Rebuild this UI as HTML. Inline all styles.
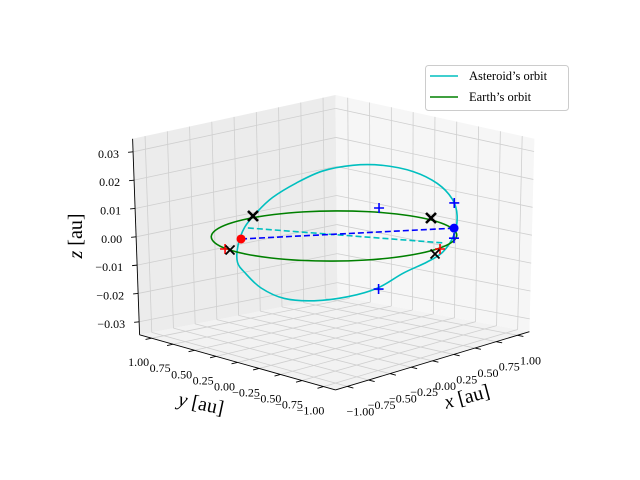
<!DOCTYPE html>
<html><head><meta charset="utf-8"><style>
html,body{margin:0;padding:0;background:#fff;}
svg{display:block;font-family:"Liberation Serif",serif;}
</style></head><body>
<svg id="chart" width="640" height="480" viewBox="0 0 640 480" xmlns="http://www.w3.org/2000/svg">
<g id="panes"></g>
<g id="grid"></g>
<g id="axes"></g>
<g id="series"></g>
<g id="markers"></g>
<text x="467" y="403" font-size="20" text-anchor="middle" transform="rotate(-15 467 397)"><tspan font-style="italic">x</tspan> [au]</text>
<text x="201" y="410" font-size="20" text-anchor="middle" transform="rotate(12 201 404)"><tspan font-style="italic">y</tspan> [au]</text>
<text x="76" y="242" font-size="20" text-anchor="middle" transform="rotate(-90 76 236)"><tspan font-style="italic">z</tspan> [au]</text>
<g>
<rect x="425.5" y="65.5" width="143" height="45" rx="3" fill="#fff" stroke="#cccccc" stroke-width="1"/>
<line x1="430" y1="76" x2="458" y2="76" stroke="#00bfbf" stroke-width="1.6"/>
<text x="469" y="80" font-size="12.5">Asteroid’s orbit</text>
<line x1="430" y1="97" x2="458" y2="97" stroke="#008000" stroke-width="1.6"/>
<text x="469" y="101" font-size="12.5">Earth’s orbit</text>
</g>
</svg>
<script>
// ---- data ----
const xTicks = [-1, -0.75, -0.5, -0.25, 0, 0.25, 0.5, 0.75, 1];
const yTicks = [-1, -0.75, -0.5, -0.25, 0, 0.25, 0.5, 0.75, 1];
const zTicks = [-0.03, -0.02, -0.01, 0, 0.01, 0.02, 0.03];
const xTickLabels = ["−1.00","−0.75","−0.50","−0.25","0.00","0.25","0.50","0.75","1.00"];
const yTickLabels = ["−1.00","−0.75","−0.50","−0.25","0.00","0.25","0.50","0.75","1.00"];
const zTickLabels = ["−0.03","−0.02","−0.01","0.00","0.01","0.02","0.03"];
const earthX = [1,0.966,0.866,0.707,0.5,0.259,0,-0.259,-0.5,-0.707,-0.866,-0.966,-1,-0.966,-0.866,-0.707,-0.5,-0.259,0,0.259,0.5,0.707,0.866,0.966];
const earthY = [0,0.259,0.5,0.707,0.866,0.966,1,0.966,0.866,0.707,0.5,0.259,0,-0.259,-0.5,-0.707,-0.866,-0.966,-1,-0.966,-0.866,-0.707,-0.5,-0.259];
const earthZ = [0,0,0,0,0,0,0,0,0,0,0,0,0,0,0,0,0,0,0,0,0,0,0,0];
const astX = [-0.797,-0.632,-0.424,-0.215,0.017,0.294,0.554,0.782,0.953,1.068,1.093,1.029,0.898,0.694,0.472,0.288,0.048,-0.232,-0.477,-0.709,-0.861,-0.899,-0.854];
const astY = [0.315,0.472,0.604,0.678,0.729,0.733,0.697,0.580,0.406,0.173,-0.081,-0.322,-0.514,-0.688,-0.787,-0.790,-0.756,-0.739,-0.641,-0.482,-0.288,-0.059,0.163];
const astZ = [-0.0058,-0.0019,0.0021,0.0054,0.0088,0.0121,0.0148,0.0161,0.0161,0.0147,0.0120,0.0084,0.0046,0.0002,-0.0037,-0.0059,-0.0083,-0.0115,-0.0133,-0.0141,-0.0136,-0.0114,-0.0083];
const earthPos = [-0.559,0.512,-0.0006];
const asteroidPos = [0.760,-0.621,0.0017];
const cyanDashFrom = [-0.416,0.577,0.0019];
const cyanDashTo = [0.568,-0.713,-0.0017];
const blackX = [[0.099,1.047,0],[1.049,-0.056,0],[-0.977,0.211,0],[0.070,-1.107,0]];
const blackXBold = [true,true,false,false];
const redPlus = [[-0.977,0.269,0],[0.237,-0.994,0]];
const bluePlus = [[1.033,0.534,0],[1.003,-0.372,0.0075],[0.666,-0.717,-0.0006],[-0.235,-0.755,-0.0117]];

// ---- projection ----
const LIM = 1.14, ZL = 0.0346;
function proj(x,y,z){
  const s=(x+LIM)/(2*LIM), t=(y+LIM)/(2*LIM);
  const wF=(1-s)*(1-t), wR=s*(1-t), wL=(1-s)*t, wB=s*t;
  const X=334+87.9*x-85.7*y, Ym=236-18.1*x-17.4*y;
  const H=227*wF+193*wR+196*wL+201*wB;
  const lean=-8*wF+5*wR-7*wL-2*wB;
  const w=(z+ZL)/(2*ZL)-0.5;
  return [X+lean*w, Ym-H*w];
}
const NS="http://www.w3.org/2000/svg";
function mk(tag,attrs,parent){const e=document.createElementNS(NS,tag);for(const k in attrs)e.setAttribute(k,attrs[k]);parent.appendChild(e);return e;}
function poly(pts){return pts.map(p=>p[0].toFixed(2)+","+p[1].toFixed(2)).join(" ");}
const gP=document.getElementById('panes'),gG=document.getElementById('grid'),gA=document.getElementById('axes'),gS=document.getElementById('series'),gM=document.getElementById('markers');

// panes
let e;
e=mk('polygon',{points:poly([proj(-LIM,-LIM,-ZL),proj(LIM,-LIM,-ZL),proj(LIM,LIM,-ZL),proj(-LIM,LIM,-ZL)]),fill:'#f2f2f2'},gP);


e=mk('polygon',{points:poly([proj(-LIM,LIM,-ZL),proj(LIM,LIM,-ZL),proj(LIM,LIM,ZL),proj(-LIM,LIM,ZL)]),fill:'#ececec'},gP);


e=mk('polygon',{points:poly([proj(LIM,-LIM,-ZL),proj(LIM,LIM,-ZL),proj(LIM,LIM,ZL),proj(LIM,-LIM,ZL)]),fill:'#f6f6f6'},gP);



function gl(a,b,name){const p=proj(...a),q=proj(...b);const l=mk('line',{x1:p[0],y1:p[1],x2:q[0],y2:q[1],stroke:'#cfcfcf','stroke-width':0.8},gG);

}
xTicks.forEach(v=>{gl([v,-LIM,-ZL],[v,LIM,-ZL],'grid-floor-x');gl([v,LIM,-ZL],[v,LIM,ZL],'grid-wall-x');});
yTicks.forEach(v=>{gl([-LIM,v,-ZL],[LIM,v,-ZL],'grid-floor-y');gl([LIM,v,-ZL],[LIM,v,ZL],'grid-wall-y');});
zTicks.forEach(v=>{gl([-LIM,LIM,v],[LIM,LIM,v],'grid-left-z');gl([LIM,-LIM,v],[LIM,LIM,v],'grid-right-z');});

// axes
function al(a,b,name){const p=proj(...a),q=proj(...b);const l=mk('line',{x1:p[0],y1:p[1],x2:q[0],y2:q[1],stroke:'#000','stroke-width':0.9},gA);

}
al([-LIM,-LIM,-ZL],[LIM,-LIM,-ZL],'x-axis-line');
al([-LIM,-LIM,-ZL],[-LIM,LIM,-ZL],'y-axis-line');
al([-LIM,LIM,-ZL],[-LIM,LIM,ZL],'z-axis-line');
function tx(x,y,str,name,anchor){const t=mk('text',{x:x,y:y,'font-size':12,'text-anchor':anchor||'middle'},gA);t.textContent=str;

}
xTicks.forEach((v,i)=>{const p=proj(v,-LIM,-ZL);al([v,-LIM,-ZL],[v,-LIM-0.07,-ZL],'x-tick');
  tx(p[0]+13,p[1]+29,xTickLabels[i],'x-tick-label');});
yTicks.forEach((v,i)=>{const p=proj(-LIM,v,-ZL);al([-LIM,v,-ZL],[-LIM-0.07,v,-ZL],'y-tick');
  tx(p[0]-13,p[1]+28,yTickLabels[i],'y-tick-label');});
zTicks.forEach((v,i)=>{const p=proj(-LIM,LIM,v);const l=mk('line',{x1:p[0],y1:p[1],x2:p[0]-5,y2:p[1]+0.5,stroke:'#000','stroke-width':0.9},gA);
  
  
  tx(p[0]-14,p[1]+6,zTickLabels[i],'z-tick-label','end');});

// series
function smooth(xs,ys,zs){const P=xs.map((x,i)=>proj(x,ys[i],zs[i]));const n=P.length;let d='M'+P[0][0].toFixed(2)+','+P[0][1].toFixed(2);
  for(let i=0;i<n;i++){const p0=P[(i-1+n)%n],p1=P[i],p2=P[(i+1)%n],p3=P[(i+2)%n];
    const c1=[p1[0]+(p2[0]-p0[0])/6,p1[1]+(p2[1]-p0[1])/6],c2=[p2[0]-(p3[0]-p1[0])/6,p2[1]-(p3[1]-p1[1])/6];
    d+=' C'+c1[0].toFixed(2)+','+c1[1].toFixed(2)+' '+c2[0].toFixed(2)+','+c2[1].toFixed(2)+' '+p2[0].toFixed(2)+','+p2[1].toFixed(2);}
  return d+'Z';}
e=mk('path',{d:smooth(astX,astY,astZ),fill:'none',stroke:'#00bfbf','stroke-width':1.6},gS);


e=mk('path',{d:smooth(earthX,earthY,earthZ),fill:'none',stroke:'#008000','stroke-width':1.6},gS);


function dash(a,b,col,name){const p=proj(...a),q=proj(...b);const l=mk('line',{x1:p[0],y1:p[1],x2:q[0],y2:q[1],stroke:col,'stroke-width':1.6,'stroke-dasharray':'6,3'},gS);

}
dash(cyanDashFrom,cyanDashTo,'#00bfbf','asteroid-chord-line');
dash(earthPos,asteroidPos,'#0000ff','earth-asteroid-line');

// markers
function plus(pt,col,name){const p=proj(...pt);const g=mk('path',{d:`M${p[0]-5},${p[1]}H${p[0]+5}M${p[0]},${p[1]-5}V${p[1]+5}`,stroke:col,'stroke-width':1.6,fill:'none'},gM);

}
function cross(pt,bold,name){const p=proj(...pt);const r=bold?5:4.5;const g=mk('path',{d:`M${p[0]-r},${p[1]-r}L${p[0]+r},${p[1]+r}M${p[0]-r},${p[1]+r}L${p[0]+r},${p[1]-r}`,stroke:'#000','stroke-width':bold?2.6:1.8,fill:'none'},gM);

}
redPlus.forEach(pt=>plus(pt,'#ff0000','red-plus-marker'));
bluePlus.forEach(pt=>plus(pt,'#0000ff','blue-plus-marker'));
blackX.forEach((pt,i)=>cross(pt,blackXBold[i],'black-x-marker'));
let q=proj(...earthPos);
e=mk('circle',{cx:q[0],cy:q[1],r:4.5,fill:'#ff0000'},gM);


q=proj(...asteroidPos);
e=mk('circle',{cx:q[0],cy:q[1],r:4.5,fill:'#0000ff'},gM);


</script>
</body></html>
